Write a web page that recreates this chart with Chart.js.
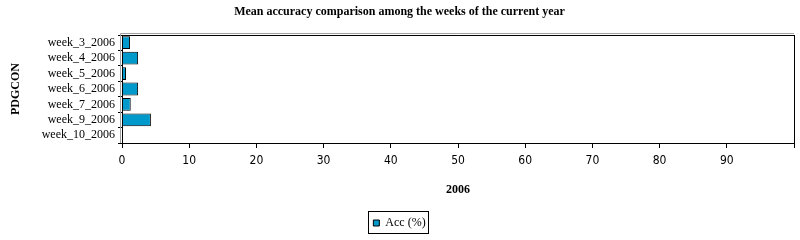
<!DOCTYPE html>
<html>
<head>
<meta charset="utf-8">
<script src="https://cdn.jsdelivr.net/npm/chart.js@4/dist/chart.umd.min.js"></script>
<style>
  html, body { margin: 0; padding: 0; background: #fff; }
  #wrap { width: 800px; height: 240px; }
</style>
</head>
<body>
<div id="wrap"><canvas id="chart" width="800" height="240"></canvas></div>
<script>
// Mean accuracy per week, horizontal bars.
const weeks = ['week_3_2006', 'week_4_2006', 'week_5_2006', 'week_6_2006', 'week_7_2006', 'week_9_2006', 'week_10_2006'];
const acc = [1.2, 2.4, 0.6, 2.4, 1.3, 4.3, 0];
const xTicks = [0, 10, 20, 30, 40, 50, 60, 70, 80, 90, 100];

const SERIF = "'Liberation Serif', 'DejaVu Serif', serif";
const NARROW = "'Liberation Sans Narrow', 'DejaVu Sans Condensed', sans-serif";

// frame round the plot + box round the legend
const frame = {
  id: 'frame',
  afterDraw(c) {
    const a = c.chartArea, x = c.ctx;
    x.save();
    x.strokeStyle = '#a0a0a0'; x.lineWidth = 1;
    x.beginPath(); x.moveTo(a.left - 1.5, a.bottom); x.lineTo(a.left - 1.5, a.top - 1.5); x.lineTo(a.right, a.top - 1.5); x.stroke();
    x.strokeStyle = '#000';
    x.strokeRect(Math.round(a.left) + 0.5, Math.round(a.top) + 0.5, Math.round(a.right - a.left), Math.round(a.bottom - a.top));
    const hb = c.legend.legendHitBoxes[0];
    if (hb) x.strokeRect(Math.round(hb.left) - 4.5, Math.round(hb.top) - 5.5, Math.round(hb.width) + 8, 22);
    x.restore();
  }
};

new Chart(document.getElementById('chart'), {
  type: 'bar',
  data: {
    labels: weeks,
    datasets: [{ label: 'Acc (%)', data: acc, backgroundColor: '#0099cc', borderColor: '#000', borderWidth: 1, barPercentage: 0.83, categoryPercentage: 1 }],
  },
  options: {
    indexAxis: 'y', responsive: false, animation: false,
    layout: { padding: { left: 4, right: 5, top: 0, bottom: 1 } },
    scales: {
      x: {
        min: 0, max: 100, afterBuildTicks: (s) => { s.ticks = xTicks.map((v) => ({ value: v })); },
        afterFit: (s) => { s.height = 66; },
        ticks: { color: '#000', font: { family: NARROW, size: 12 }, padding: 6, callback: (v) => (v === 100 ? '' : v) },
        grid: { drawOnChartArea: false, tickLength: 5, tickColor: '#000' },
        border: { color: '#000' },
        title: { display: true, text: '2006', color: '#000', font: { family: SERIF, size: 12, weight: 'bold' }, padding: { top: 4, bottom: 12 } },
      },
      y: {
        afterFit: (s) => { s.width = 118; },
        ticks: { color: '#000', font: { family: SERIF, size: 12 }, padding: 3, autoSkip: false },
        grid: { drawOnChartArea: false, tickLength: 4, tickColor: '#000' },
        border: { color: '#000' },
        title: { display: true, text: 'PDGCON', color: '#000', font: { family: SERIF, size: 12, weight: 'bold' }, padding: { top: 5, bottom: 0 } },
      },
    },
    plugins: {
      title: { display: true, text: 'Mean accuracy comparison among the weeks of the current year', color: '#000', font: { family: SERIF, size: 12, weight: 'bold' }, padding: { top: 5, bottom: 15.6 } },
      legend: { position: 'bottom', labels: { color: '#000', boxWidth: 6, boxHeight: 6, font: { family: SERIF, size: 12 }, padding: 8 } },
      tooltip: { enabled: false },
    },
  },
  plugins: [frame],
});
</script>
</body>
</html>
